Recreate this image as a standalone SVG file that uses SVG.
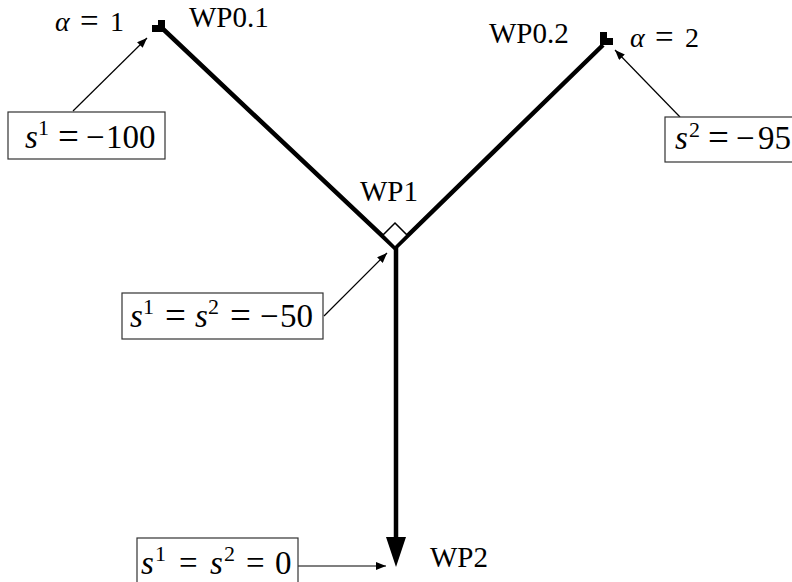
<svg xmlns="http://www.w3.org/2000/svg" width="792" height="582" viewBox="0 0 792 582">
<defs>
<marker id="ah" viewBox="0 0 10 8" refX="10" refY="4" markerWidth="10" markerHeight="8" markerUnits="userSpaceOnUse" orient="auto">
<path d="M0,0 L10,4 L0,8 Z" fill="#000"/>
</marker>
<style>
.wp{font-family:"Liberation Serif","Times New Roman",serif;font-size:29px;fill:#000}
.m{font-family:"Liberation Serif","Times New Roman",serif;font-size:33px;fill:#000}
.a{font-family:"Liberation Serif","Times New Roman",serif;font-size:28px;fill:#000}
.i{font-style:italic}
.eq{font-size:37px}
.eqa{font-size:33px}
.sup{font-size:22px}
.box{fill:#fff;stroke:#333;stroke-width:1.2}
.thin{fill:none;stroke:#000;stroke-width:1.2;marker-end:url(#ah)}
.thick{fill:none;stroke:#000;stroke-width:4.5;stroke-linejoin:miter;stroke-miterlimit:10}
</style>
</defs>
<rect width="792" height="582" fill="#fff"/>

<g id="connectors">
<path class="thick" d="M163,29 L395,248 L603,45"/>
<path class="thick" d="M396,248 L396,540"/>
<polygon points="386,537 406,537 396,567" fill="#000"/>
<line class="thin" x1="73" y1="111" x2="147" y2="38"/>
<line class="thin" x1="680" y1="117" x2="615" y2="50"/>
<line class="thin" x1="324" y1="316" x2="387" y2="253"/>
<line class="thin" x1="298" y1="566" x2="386" y2="566"/>
</g>

<g id="WP0.1">
<polygon points="152,25 158,25 158,20 165,20 165,32 152,32" fill="#000"/>
<text class="wp" x="189" y="27">WP0.1</text>
<text class="a" y="31"><tspan class="i" x="55">α</tspan><tspan class="eqa" x="80" y="32">=</tspan><tspan x="110" y="31">1</tspan></text>
</g>

<g id="WP0.2">
<polygon points="600,32 607,32 607,38 613,38 613,45 600,45" fill="#000"/>
<text class="wp" x="489" y="43">WP0.2</text>
<text class="a" y="47"><tspan class="i" x="630">α</tspan><tspan class="eqa" x="655" y="48">=</tspan><tspan x="685" y="47">2</tspan></text>
</g>

<g id="WP1">
<polygon points="395,223 407,235 395,247 383,235" fill="#fff" stroke="#000" stroke-width="1.5"/>
<text class="wp" x="360" y="201">WP1</text>
</g>

<g id="WP2">
<text class="wp" x="430" y="567">WP2</text>
</g>

<g id="label-s1-100">
<rect class="box" x="8" y="112" width="157" height="47"/>
<text class="m" y="148"><tspan class="i" x="25">s</tspan><tspan class="sup" x="38" y="135">1</tspan><tspan class="eq" x="58" y="149">=</tspan><tspan x="86" y="148">−</tspan><tspan x="106">100</tspan></text>
</g>

<g id="label-s2-95">
<rect class="box" x="665" y="117" width="140" height="45"/>
<text class="m" y="149"><tspan class="i" x="675">s</tspan><tspan class="sup" x="689" y="137">2</tspan><tspan class="eq" x="708" y="150">=</tspan><tspan x="736" y="149">−</tspan><tspan x="758">95</tspan></text>
</g>

<g id="label-s-50">
<rect class="box" x="122" y="293" width="201" height="46"/>
<text class="m" y="327"><tspan class="i" x="130">s</tspan><tspan class="sup" x="143" y="314">1</tspan><tspan class="eq" x="165" y="328">=</tspan><tspan class="i" x="195" y="327">s</tspan><tspan class="sup" x="208" y="314">2</tspan><tspan class="eq" x="230" y="328">=</tspan><tspan x="260" y="327">−</tspan><tspan x="280">50</tspan></text>
</g>

<g id="label-s-0">
<rect class="box" x="137" y="538" width="161" height="50"/>
<text class="m" y="574"><tspan class="i" x="141">s</tspan><tspan class="sup" x="155" y="561">1</tspan><tspan class="eqa" x="179" y="574">=</tspan><tspan class="i" x="210" y="574">s</tspan><tspan class="sup" x="224" y="561">2</tspan><tspan class="eqa" x="246" y="574">=</tspan><tspan x="275" y="574">0</tspan></text>
</g>
</svg>
